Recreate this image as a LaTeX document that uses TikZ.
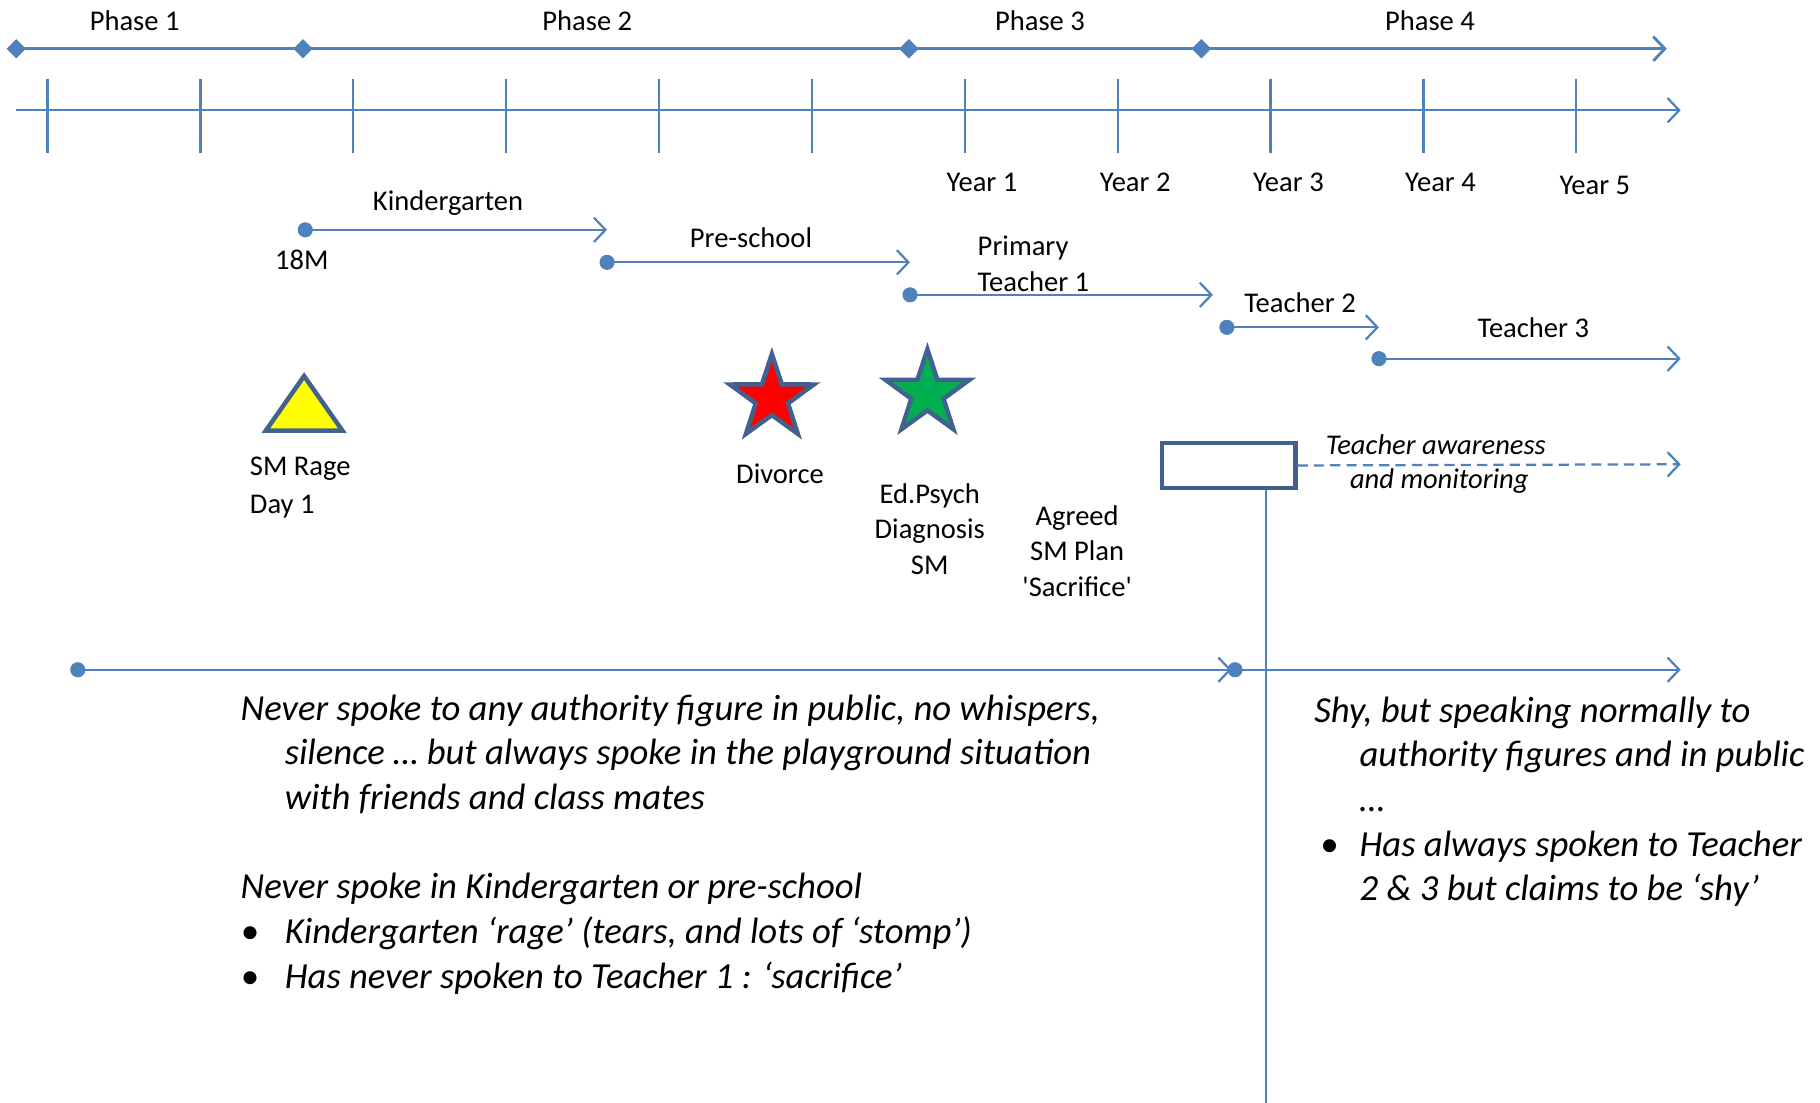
\documentclass[tikz,border=0pt]{standalone}
\usepackage{fontspec}
\setmainfont{Carlito}
\usetikzlibrary{arrows.meta,positioning,calc,shapes.geometric}
\definecolor{lineblue}{RGB}{79,129,189}
\definecolor{edgeblue}{RGB}{65,98,142}
\definecolor{starred}{RGB}{255,0,0}
\definecolor{stargreen}{RGB}{0,176,80}
\definecolor{triyellow}{RGB}{255,255,0}

\begin{document}
\begin{tikzpicture}[x=0.02cm,y=-0.02cm,
  every node/.style={font=\fontsize{14}{17}\selectfont,inner sep=0pt},
  line/.style={draw=lineblue,line width=1.1pt},
  barb/.style={-{Straight Barb[length=0.2cm,width=0.42cm]}},
  span/.style={line,shorten <=-0.13cm,{Circle[length=0.26cm]}-{Straight Barb[length=0.2cm,width=0.42cm]}},
  phasemark/.style={diamond,fill=lineblue,minimum size=0.34cm},
  event/.style={star,star points=5,star point ratio=2.6,minimum size=1.52cm,draw=edgeblue,line width=2.2pt},
  note/.style={font=\fontsize{18}{21.9}\selectfont\itshape,align=left,anchor=north west}]
\useasboundingbox (0,0) rectangle (1568,950);

% phases
\coordinate (p0) at (14,42);
\coordinate (p1) at (261,42);
\coordinate (p2) at (783,42);
\coordinate (p3) at (1035,42);
\coordinate (pend) at (1436,42);
\draw[line,line width=1.4pt,barb] (p0) -- (pend);
\foreach \i in {0,...,3} \node[phasemark] at (p\i) {};
\node (ph1) at (116,18) {Phase 1};
\node (ph2) at (506,18) {Phase 2};
\node (ph3) at (896,18) {Phase 3};
\node (ph4) at (1232,18) {Phase 4};

% year axis
\coordinate (a0) at (14,95);
\coordinate (a1) at (1448,95);
\draw[line,barb] (a0) -- (a1);
\foreach \i in {0,...,10} \draw[line] ({41+131.7*\i},68) -- ++(0,64);
\foreach \n/\x in {1/846,2/978,3/1110,4/1241}
  \node (y\n) at (\x,157) {Year \n};
\node (y5) at (1374,160) {Year 5};

% settings
\coordinate (k0) at (263,198);
\coordinate (k1) at (523,198);
\draw[span] (k0) -- (k1);
\node (kinder) at (386,175) {Kindergarten};
\node (m18) at (260,224) {18M};
\coordinate (s0) at (523,226);
\coordinate (s1) at (784,226);
\draw[span] (s0) -- (s1);
\node (pre) at (647,205) {Pre-school};
\coordinate (t0) at (784,254);
\coordinate (t1) at (1045,254);
\draw[span] (t0) -- (t1);
\node[align=left,anchor=north west,font=\fontsize{14}{17.5}\selectfont] (prim) at (842,203) {Primary\\Teacher 1};
\coordinate (u0) at (1057,282);
\coordinate (u1) at (1188,282);
\draw[span] (u0) -- (u1);
\node (t2) at (1120,261) {Teacher 2};
\coordinate (v0) at (1188,309);
\coordinate (v1) at (1448,309);
\draw[span] (v0) -- (v1);
\node (t3) at (1321,282) {Teacher 3};

% events
\draw[draw=edgeblue,line width=2.2pt,fill=triyellow,line join=miter] (262,324) -- (295,371) -- (229,371) -- cycle;
\node[align=left,anchor=north west,font=\fontsize{14}{19}\selectfont] (rage) at (215,393) {SM Rage\\Day 1};
\node[event,fill=starred] (divorce) at (665,343) {};
\node (divlbl) at (672,408) {Divorce};
\node[event,fill=stargreen] (diag) at (799,339) {};
\node[align=center,anchor=north,font=\fontsize{14}{17.5}\selectfont] (diaglbl) at (801,416) {Ed.Psych\\Diagnosis\\SM};
\node[align=center,anchor=north,font=\fontsize{14}{17.5}\selectfont] (plan) at (928,435) {Agreed\\SM Plan\\\textquotesingle Sacrifice\textquotesingle};

% plan box
\node[draw=edgeblue,line width=2.2pt,minimum width=2.3cm,minimum height=0.78cm] (box) at (1058.5,401) {};
\coordinate (dend) at (1448,400);
\draw[line,dashed,dash pattern=on 5pt off 3pt,barb] (box.east) -- (dend);
\node[font=\fontsize{14}{17}\selectfont\itshape] (aware) at (1237,383) {Teacher awareness};
\node[font=\fontsize{14}{17}\selectfont\itshape] (monit) at (1240,414) {and monitoring};
\coordinate (vbot) at (1091,950);
\draw[line] (box.south -| vbot) -- (vbot);

% speaking line
\coordinate (b0) at (67,577);
\coordinate (b1) at (1061,577);
\coordinate (c0) at (1064,577);
\coordinate (c1) at (1448,577);
\draw[span] (b0) -- (b1);
\draw[span] (c0) -- (c1);

% notes
\node[note] (before) at (207,598) {Never spoke to any authority figure in public, no whispers,\\
\hspace*{0.76cm}silence … but always spoke in the playground situation\\
\hspace*{0.76cm}with friends and class mates\\[0.77cm]
Never spoke in Kindergarten or pre-school\\
\makebox[0.76cm][l]{\textbullet}Kindergarten ‘rage’ (tears, and lots of ‘stomp’)\\
\makebox[0.76cm][l]{\textbullet}Has never spoken to Teacher 1 : ‘sacrifice’};
\node[note] (after) at (1132,600) {Shy, but speaking normally to\\
\hspace*{0.78cm}authority figures and in public\\
\hspace*{0.78cm}…\\
\makebox[0.78cm][l]{\hspace*{0.1cm}\textbullet}Has always spoken to Teacher\\
\hspace*{0.78cm}2 \& 3 but claims to be ‘shy’};
\end{tikzpicture}
\end{document}
